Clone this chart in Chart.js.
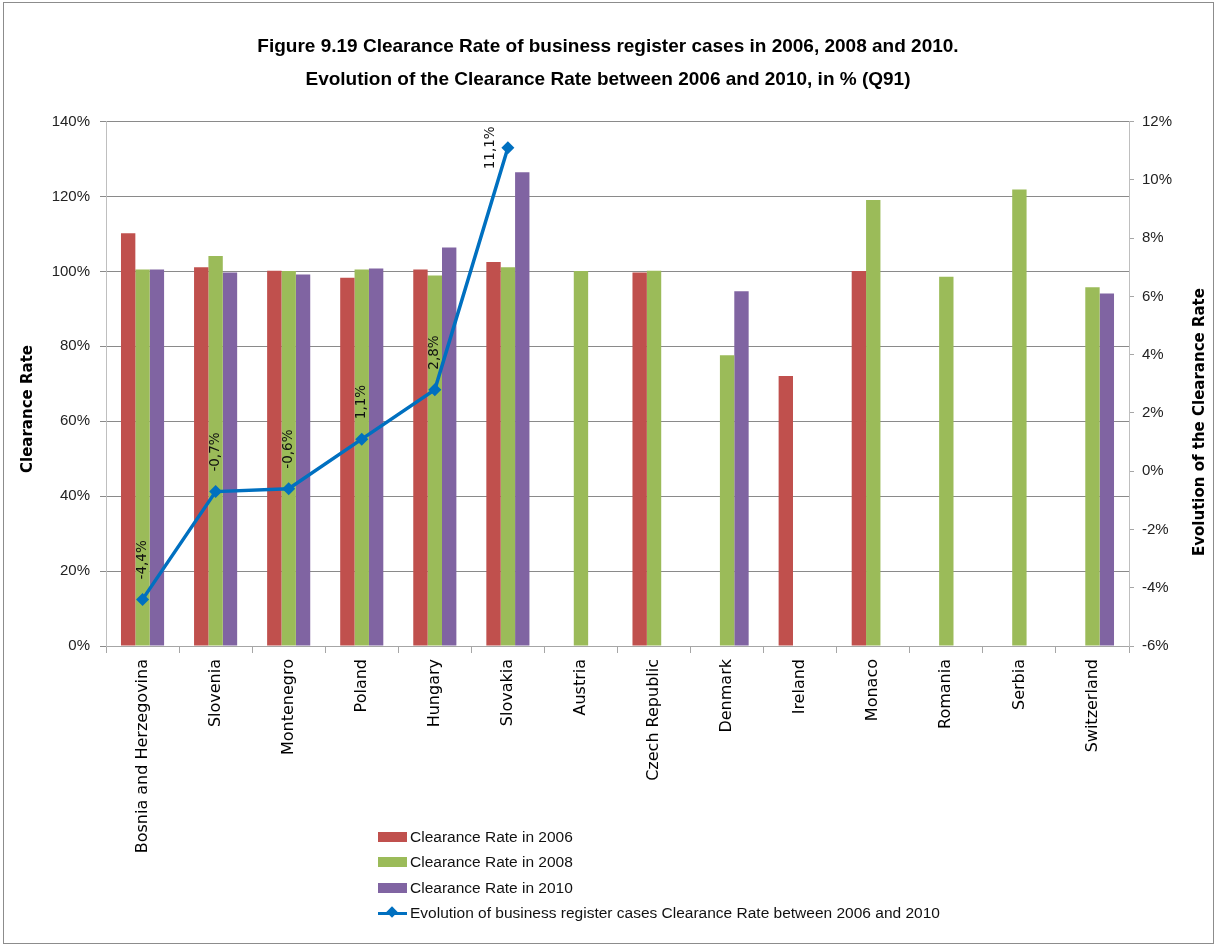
<!DOCTYPE html>
<html>
<head>
<meta charset="utf-8">
<script src="https://cdn.jsdelivr.net/npm/chart.js@4/dist/chart.umd.min.js"></script>
<style>
  body { margin: 0; background: #fff; }
  #wrap { position: relative; width: 1216px; height: 945px; }
  #frame { position: absolute; left: 3px; top: 2px; width: 1209px; height: 940px; border: 1px solid #8c8c8c; pointer-events: none; }
  #legend { position: absolute; left: 378px; top: 824px; font-family: 'Liberation Sans', sans-serif; font-size: 15.5px; color: #111; }
  .row { height: 25.5px; display: flex; align-items: center; }
  .sw { width: 29px; height: 10px; margin-right: 3px; position: relative; }
  .ln { height: 3px; margin-top: 3.5px; }
  .dm { position: absolute; left: 10px; top: 0px; width: 8px; height: 8px; transform: rotate(45deg); }
</style>
</head>
<body>
<div id="wrap">
  <canvas id="chart" width="1216" height="945"></canvas>
  <div id="legend"></div>
  <div id="frame"></div>
</div>
<script>
const countries = [
  'Bosnia and Herzegovina', 'Slovenia', 'Montenegro', 'Poland', 'Hungary', 'Slovakia',
  'Austria', 'Czech Republic', 'Denmark', 'Ireland', 'Monaco', 'Romania', 'Serbia', 'Switzerland'
];
const rate2006 = [110.2, 101.1, 100.2, 98.3, 100.5, 102.5, null, 99.7, null, 72.1, 100.1, null, null, null];
const rate2008 = [100.5, 104.1, 100.1, 100.5, 98.9, 101.1, 100.1, 100.2, 77.6, null, 119.1, 98.6, 121.9, 95.8];
const rate2010 = [100.5, 99.7, 99.2, 100.8, 106.4, 126.5, null, null, 94.7, null, null, null, null, 94.1];
const evolution = [-4.4, -0.7, -0.6, 1.1, 2.8, 11.1, null, null, null, null, null, null, null, null];

const titleLines = [
  'Figure 9.19 Clearance Rate of business register cases in 2006, 2008 and 2010.',
  'Evolution of the Clearance Rate between 2006 and 2010, in % (Q91)'
];
const leftTitle = 'Clearance Rate';
const rightTitle = 'Evolution of the Clearance Rate';

const tickFont = "'Liberation Sans', Arial, sans-serif";

// axis titles read bottom-to-top on both sides, and sit a bit below centre like the original
const axisTitles = {
  id: 'axisTitles',
  afterDraw(chart) {
    const ctx = chart.ctx;
    [[leftTitle, 28, 409], [rightTitle, 1200, 422]].forEach(([txt, x, y]) => {
      ctx.save();
      ctx.font = "bold 15px 'DejaVu Sans', sans-serif";
      ctx.fillStyle = '#000';
      ctx.textAlign = 'center';
      ctx.textBaseline = 'middle';
      ctx.translate(x, y);
      ctx.rotate(-Math.PI / 2);
      ctx.fillText(txt, 0, 0);
      ctx.restore();
    });
  }
};

// vertical value labels above the line points
const lineLabels = {
  id: 'lineLabels',
  afterDatasetsDraw(chart) {
    const ctx = chart.ctx;
    const idx = chart.data.datasets.findIndex(d => d.type === 'line');
    const meta = chart.getDatasetMeta(idx);
    const vals = chart.data.datasets[idx].data;
    ctx.save();
    ctx.font = "13.5px 'DejaVu Sans', sans-serif";
    ctx.fillStyle = '#111';
    ctx.textBaseline = 'middle';
    meta.data.forEach((pt, i) => {
      const v = vals[i];
      if (v === null || pt.skip) return;
      const txt = v.toFixed(1).replace('.', ',') + '%';
      const w = ctx.measureText(txt).width;
      ctx.save();
      if (pt.y - 20 - w < chart.chartArea.top) {
        ctx.translate(pt.x - 17, pt.y);
        ctx.rotate(-Math.PI / 2);
        ctx.textAlign = 'center';
      } else {
        ctx.translate(pt.x, pt.y - 20);
        ctx.rotate(-Math.PI / 2);
        ctx.textAlign = 'left';
      }
      ctx.fillText(txt, 0, 0);
      ctx.restore();
    });
    ctx.restore();
  }
};

const barOpts = { categoryPercentage: 0.59, barPercentage: 1.0, borderWidth: 0, order: 1, yAxisID: 'y' };

const chart = new Chart(document.getElementById('chart'), {
  type: 'bar',
  data: {
    labels: countries,
    datasets: [
      { type: 'line', label: 'Evolution of business register cases Clearance Rate between 2006 and 2010',
        data: evolution, yAxisID: 'y1', order: 0,
        borderColor: '#0070C0', backgroundColor: '#0070C0', borderWidth: 3.5,
        pointStyle: 'rectRot', pointRadius: 6.5, pointBorderWidth: 0, spanGaps: false, tension: 0 },
      { label: 'Clearance Rate in 2006', data: rate2006, backgroundColor: '#C0504D', ...barOpts },
      { label: 'Clearance Rate in 2008', data: rate2008, backgroundColor: '#9BBB59', ...barOpts },
      { label: 'Clearance Rate in 2010', data: rate2010, backgroundColor: '#8064A2', ...barOpts }
    ]
  },
  options: {
    responsive: false,
    animation: false,
    layout: { padding: 0 },
    plugins: {
      legend: { display: false },
      tooltip: { enabled: false },
      title: {
        display: true,
        text: titleLines,
        color: '#000',
        font: { family: tickFont, size: 19, weight: 'bold', lineHeight: 1.7 },
        padding: { top: 31, bottom: 26 }
      }
    },
    scales: {
      x: {
        grid: { display: true, drawOnChartArea: false, offset: true, tickLength: 7, color: '#a6a6a6' },
        border: { color: '#a6a6a6' },
        ticks: { minRotation: 90, maxRotation: 90, autoSkip: false, padding: 6, color: '#000',
                 font: { family: "'DejaVu Sans', sans-serif", size: 16 } },
        afterFit(scale) { scale.height = 299; }
      },
      y: {
        position: 'left',
        min: 0, max: 140,
        grid: { color: '#8a8a8a', tickLength: 6 },
        border: { color: '#bfbfbf' },
        ticks: { stepSize: 20, padding: 10, color: '#222', font: { family: tickFont, size: 15 },
                 callback: v => v + '%' },
        afterFit(scale) { scale.width = 106; }
      },
      y1: {
        position: 'right',
        min: -6, max: 12,
        grid: { drawOnChartArea: false, tickLength: 5, color: '#a6a6a6' },
        border: { color: '#bfbfbf' },
        ticks: { stepSize: 2, padding: 8, color: '#222', font: { family: tickFont, size: 15 },
                 callback: v => v + '%' },
        afterFit(scale) { scale.width = 87; }
      }
    }
  },
  plugins: [axisTitles, lineLabels]
});

// legend as a vertical list, built from the chart's own datasets
const legend = document.getElementById('legend');
const ordered = chart.data.datasets.filter(d => d.type !== 'line').concat(chart.data.datasets.filter(d => d.type === 'line'));
ordered.forEach(ds => {
  const row = document.createElement('div');
  row.className = 'row';
  const sw = document.createElement('div');
  sw.className = 'sw';
  if (ds.type === 'line') {
    const ln = document.createElement('div');
    ln.className = 'ln';
    ln.style.background = ds.borderColor;
    const dm = document.createElement('div');
    dm.className = 'dm';
    dm.style.background = ds.borderColor;
    sw.appendChild(ln);
    sw.appendChild(dm);
  } else {
    sw.style.background = ds.backgroundColor;
  }
  const tx = document.createElement('span');
  tx.textContent = ds.label;
  row.appendChild(sw);
  row.appendChild(tx);
  legend.appendChild(row);
});
</script>
</body>
</html>
